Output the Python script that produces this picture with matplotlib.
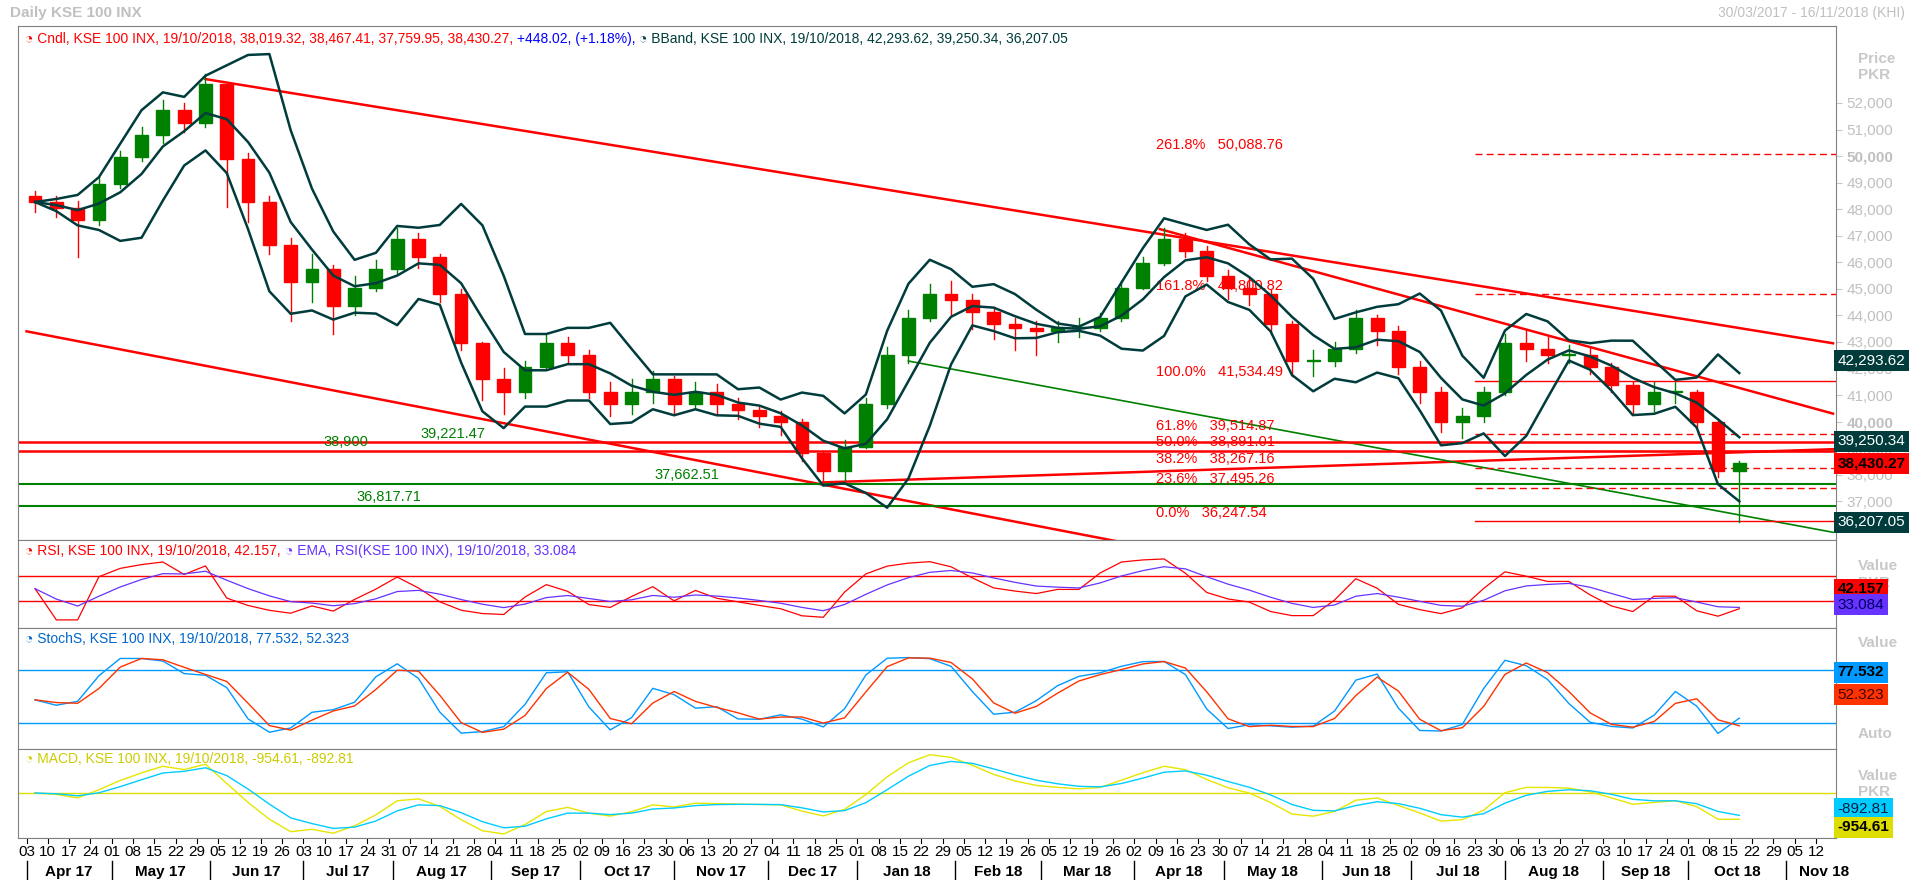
import numpy as np
import pandas as pd
import matplotlib.pyplot as plt
import matplotlib.transforms as mtrans
from matplotlib.patches import Rectangle

plt.rcParams["font.family"] = "Liberation Sans"

# weekly candles (week starting Monday)
week_start = "2017-04-03"
closes = [48270, 48040, 47580, 48960, 49970, 50800, 51720, 51260, 52700,
          49880, 48270, 46650, 45270, 45730, 44350, 45040, 45730, 46880,
          46190, 44810, 42970, 41590, 41120, 42050, 42970, 42510,
          41120, 40660, 41120, 41590, 40660, 41120, 40660, 40430, 40200,
          39970, 38820, 38130, 39050, 40660, 42510, 43890, 44810, 44580,
          44120, 43660, 43520, 43430, 43520, 43520, 43890, 45040,
          45960, 46880, 46420, 45500, 45040, 44810, 43660, 42280, 42280,
          42740, 43890, 43430, 42050, 41120, 39970, 40200, 41120, 42970,
          42740, 42510, 42510, 42050, 41360, 40660, 41120, 41120,
          39970, 38130, 38430.27]
highs = [48700, 48500, 48300, 49200, 50200, 51100, 52100, 52000, 53100,
         52200, 50100, 48500, 46900, 46300, 45900, 45500, 46100, 47300,
         47100, 46300, 45000, 43000, 42000, 42300, 43300, 43200,
         42700, 41500, 41600, 41900, 41700, 41500, 41400, 40900, 40600,
         40400, 40100, 38900, 39300, 40900, 42800, 44200, 45200, 45300,
         44800, 44300, 43900, 43800, 43800, 43900, 44100, 45300,
         46200, 47300, 47100, 46600, 45700, 45400, 45000, 43800, 42700,
         43000, 44200, 44000, 43600, 42300, 41300, 40500, 41300, 43300,
         43500, 43200, 42900, 42800, 42200, 41500, 41500, 41500,
         41200, 40100, 38500]
lows = [47900, 47700, 46200, 47400, 48800, 49800, 50500, 50900, 51100,
        48100, 47500, 46300, 43800, 44500, 43300, 44000, 44900, 45600,
        45800, 44500, 42700, 40800, 40300, 40900, 42000, 42200,
        40900, 40200, 40300, 40700, 40300, 40500, 40300, 40100, 39800,
        39500, 38500, 37700, 37800, 39000, 40500, 42200, 43800, 44000,
        43500, 43100, 42700, 42500, 43000, 43200, 43400, 43800,
        45000, 45900, 46200, 45300, 44600, 44400, 43300, 41700, 41700,
        42100, 42600, 42900, 41800, 40700, 39600, 39400, 40000, 41000,
        42300, 42200, 42200, 41800, 41100, 40300, 40400, 40700,
        39800, 37900, 36200]
first_open = 48500

# drawn lines: (start date, start price, end date, end price)
red_trend = [("2017-05-31", 52900, "2018-11-16", 42950),
             ("2017-03-30", 43400, "2018-11-16", 30300),
             ("2018-04-10", 47250, "2018-11-16", 40300),
             ("2017-12-20", 37710, "2018-11-16", 38960)]
green_trend = [("2018-01-17", 42280, "2018-11-16", 35830)]
red_levels = [39221.47, 38900]
red_level_labels = [("2017-08-21", "39,221.47"), ("2017-07-17", "38,900")]
green_levels = [37662.51, 36817.71]
green_level_labels = [("2017-11-06", "37,662.51"), ("2017-07-31", "36,817.71")]
fib_pct = ["261.8%", "161.8%", "100.0%", "61.8%", "50.0%", "38.2%", "23.6%", "0.0%"]
fib_val = [50088.76, 44800.82, 41534.49, 39514.87, 38891.01, 38267.16, 37495.26, 36247.54]
fib_dashed = [True, True, False, True, False, True, True, False]
fib_start = "2018-07-23"
fib_label_date = "2018-04-09"
price_ticks = [37000, 38000, 39000, 40000, 41000, 42000, 43000, 44000, 45000,
               46000, 47000, 48000, 49000, 50000, 51000, 52000]

days = pd.bdate_range("2017-04-03", "2018-11-16")
def xi(d):
    return days.searchsorted(pd.Timestamp(d))

weeks = pd.date_range(week_start, periods=len(closes), freq="W-MON")
xs = np.array([xi(d) + 2 for d in weeks])
c = pd.Series(closes, dtype=float)
o = c.shift(1).fillna(first_open)
h = pd.Series(np.maximum(highs, np.maximum(o, c)))
l = pd.Series(np.minimum(lows, np.minimum(o, c)))

# indicators
mid = c.rolling(4, min_periods=1).mean()
sd = c.rolling(4, min_periods=1).std(ddof=0)
up, lo = mid + 2 * sd, mid - 2 * sd
d = c.diff()
g = d.clip(lower=0).ewm(alpha=1/3, adjust=False).mean()
ls = (-d.clip(upper=0)).ewm(alpha=1/3, adjust=False).mean()
rsi = 100 - 100 / (1 + g / ls.replace(0, np.nan))
rsi = rsi.fillna(50)
rsi_ema = rsi.ewm(span=5, adjust=False).mean()
hh = h.rolling(3, min_periods=1).max()
ll = l.rolling(3, min_periods=1).min()
k = ((c - ll) / (hh - ll) * 100).rolling(2, min_periods=1).mean()
dk = k.rolling(2, min_periods=1).mean()
macd = c.ewm(span=3, adjust=False).mean() - c.ewm(span=8, adjust=False).mean()
sig = macd.ewm(span=3, adjust=False).mean()

W, H = 1915, 883
fig = plt.figure(figsize=(W / 100, H / 100), dpi=100)
L, R = 18, 1836
def add(top, bot):
    return fig.add_axes([L / W, 1 - bot / H, (R - L) / W, (bot - top) / H])

ax = add(26, 540)
ax_r = add(540, 628)
ax_s = add(628, 749)
ax_m = add(749, 838)
ax_d = add(838, 880)
xlim = (-2, 424.7)
gray = "#808080"
for a in (ax, ax_r, ax_s, ax_m, ax_d):
    a.set_xlim(*xlim)
    a.set_xticks([])
    for sp in a.spines.values():
        sp.set_color(gray)
    a.yaxis.tick_right()
    a.tick_params(axis="y", colors="#c8c8c8", labelcolor="#c0c0c0", labelsize=11, length=4)

fig.text(10 / W, 1 - 13 / H, "Daily KSE 100 INX", color="#c0c0c0", fontsize=11,
         fontweight="bold", va="center")
fig.text(1 - 10 / W, 1 - 13 / H, "30/03/2017 - 16/11/2018 (KHI)", color="#c0c0c0",
         fontsize=10, ha="right", va="center")

renderer = fig.canvas.get_renderer()
def legend(a, y, parts):
    x = 0.004
    for txt, col in parts:
        t = a.text(x, y, txt, transform=a.transAxes, color=col, fontsize=10, va="top")
        bb = t.get_window_extent(renderer).transformed(a.transAxes.inverted())
        x = bb.x1 + 0.002

# main panel
ax.set_ylim(35540, 54900)
ax.set_yticks(price_ticks)
ax.set_yticklabels([f"{t:,}" for t in price_ticks])
for lab in ax.get_yticklabels():
    if lab.get_text() in ("40,000", "50,000"):
        lab.set_fontweight("bold")
ax.text(1.012, 0.95, "Price\nPKR", transform=ax.transAxes, color="#c8c8c8",
        fontsize=11, fontweight="bold", va="top")

for x0, oo, hh_, ll_, cc in zip(xs, o, h, l, c):
    col = "#008000" if cc >= oo else "#ff0000"
    ax.plot([x0, x0], [ll_, hh_], color=col, lw=1, zorder=3)
    ax.add_patch(Rectangle((x0 - 1.5, min(oo, cc)), 3, max(abs(cc - oo), 30),
                           color=col, zorder=4))
for band in (up, mid, lo):
    ax.plot(xs, band, color="#003c3c", lw=1.8, zorder=5)

for d0, p0, d1, p1 in red_trend:
    ax.plot([xi(d0), xi(d1)], [p0, p1], color="#ff0000", lw=1.8, zorder=2)
for d0, p0, d1, p1 in green_trend:
    ax.plot([xi(d0), xi(d1)], [p0, p1], color="#008000", lw=1.2, zorder=2)
for v in red_levels:
    ax.axhline(v, color="#ff0000", lw=1.8, zorder=2)
for (dd, t), v in zip(red_level_labels, red_levels):
    ax.text(xi(dd), v + 60, t, color="#008000", fontsize=10.5, ha="center", va="bottom")
for v in green_levels:
    ax.axhline(v, color="#008000", lw=1.5, zorder=2)
for (dd, t), v in zip(green_level_labels, green_levels):
    ax.text(xi(dd), v + 60, t, color="#008000", fontsize=10.5, ha="center", va="bottom")
for p, v, dsh in zip(fib_pct, fib_val, fib_dashed):
    ax.plot([xi(fib_start), xlim[1]], [v, v], color="#ff0000", lw=1,
            ls=(0, (5, 3)) if dsh else "-", zorder=2)
    ax.text(xi(fib_label_date), v + 60, f"{p}   {v:,.2f}", color="#ff0000",
            fontsize=10.5, va="bottom")

def tag(a, y, txt, fc, tc, bold=False):
    t = mtrans.blended_transform_factory(a.transAxes, a.transData)
    a.text(1.001, y, txt, transform=t, color=tc, fontsize=11, va="center",
           fontweight="bold" if bold else "normal",
           bbox=dict(fc=fc, ec="none", pad=2.5), zorder=10, clip_on=False)
tag(ax, 42293.62, "42,293.62", "#003c3c", "white")
tag(ax, 39250.34, "39,250.34", "#003c3c", "white")
tag(ax, 38430.27, "38,430.27", "#ff0000", "black", True)
tag(ax, 36207.05, "36,207.05", "#003c3c", "white")

legend(ax, 0.988, [("\u25d4 Cndl, KSE 100 INX, 19/10/2018, 38,019.32, 38,467.41, 37,759.95, 38,430.27,", "#ff0000"),
                   ("+448.02, (+1.18%),", "#0000ff"),
                   ("\u25d4 BBand, KSE 100 INX, 19/10/2018, 42,293.62, 39,250.34, 36,207.05", "#003c3c")])

# RSI
ax_r.set_ylim(-13, 128)
ax_r.set_yticks([])
ax_r.axhline(70, color="#ff0000", lw=1)
ax_r.axhline(30, color="#ff0000", lw=1)
ax_r.plot(xs, rsi, color="#ff0000", lw=0.9)
ax_r.plot(xs, rsi_ema, color="#6633ff", lw=0.9)
legend(ax_r, 0.96, [("\u25d4 RSI, KSE 100 INX, 19/10/2018, 42.157,", "#ff0000"),
                    ("\u25d4 EMA, RSI(KSE 100 INX), 19/10/2018, 33.084", "#6633ff")])
ax_r.text(1.012, 0.78, "Value\nPKR", transform=ax_r.transAxes, color="#c8c8c8",
          fontsize=11, fontweight="bold", va="top")
tag(ax_r, 49, "42.157", "#ff0000", "black", True)
tag(ax_r, 24, "33.084", "#6633ff", "#000060")

# Stochastic
ax_s.set_ylim(-9.4, 127.6)
ax_s.set_yticks([])
ax_s.axhline(80, color="#0099ff", lw=1)
ax_s.axhline(20, color="#0099ff", lw=1)
ax_s.plot(xs, k, color="#0099ff", lw=1)
ax_s.plot(xs, dk, color="#ff3300", lw=1)
legend(ax_s, 0.97, [("\u25d4 StochS, KSE 100 INX, 19/10/2018, 77.532, 52.323", "#0066cc")])
ax_s.text(1.012, 0.93, "Value", transform=ax_s.transAxes, color="#c8c8c8",
          fontsize=11, fontweight="bold", va="top")
ax_s.text(1.012, 0.12, "Auto", transform=ax_s.transAxes, color="#c8c8c8",
          fontsize=11, fontweight="bold", va="center")
tag(ax_s, 77.5, "77.532", "#0099ff", "black", True)
tag(ax_s, 52.3, "52.323", "#ff3300", "#400000")

# MACD
mx = float(np.nanmax(np.r_[macd, sig])) * 1.15
mn = float(np.nanmin(np.r_[macd, sig])) * 1.1
ax_m.set_ylim(min(mn, -mx * 38 / 51), mx)
ax_m.set_yticks([])
ax_m.axhline(0, color="#dddd00", lw=1)
ax_m.plot(xs, macd, color="#e6e600", lw=1)
ax_m.plot(xs, sig, color="#00ccff", lw=1)
legend(ax_m, 0.97, [("\u25d4 MACD, KSE 100 INX, 19/10/2018, -954.61, -892.81", "#cccc00")])
ax_m.text(1.012, 0.78, "Value\nPKR", transform=ax_m.transAxes, color="#c8c8c8",
          fontsize=11, fontweight="bold", va="top")
y0, y1 = ax_m.get_ylim()
tag(ax_m, y0 + (y1 - y0) * 0.33, "-892.81", "#00ccff", "#002040")
tag(ax_m, y0 + (y1 - y0) * 0.12, "-954.61", "#dddd00", "black", True)

# date strip
ax_d.set_ylim(0, 1)
ax_d.set_yticks([])
for sp in ("left", "right", "bottom"):
    ax_d.spines[sp].set_visible(False)
mondays = pd.date_range("2017-04-03", "2018-11-12", freq="W-MON")
for m in mondays:
    x0 = xi(m)
    ax_d.plot([x0, x0], [1, 0.88], color="black", lw=0.8)
    ax_d.text(x0, 0.66, f"{m.day:02d}", ha="center", va="center", fontsize=11)
months = pd.date_range("2017-04-01", "2018-11-01", freq="MS")
for i, m in enumerate(months):
    x0 = xi(m)
    x1 = xi(months[i + 1]) if i + 1 < len(months) else x0 + 18
    ax_d.plot([x0, x0], [0.45, 0.0], color="black", lw=1)
    ax_d.text((x0 + x1) / 2, 0.2, m.strftime("%b %y"), ha="center", va="center",
              fontsize=11, fontweight="bold")

fig.savefig("out.png", dpi=100)
